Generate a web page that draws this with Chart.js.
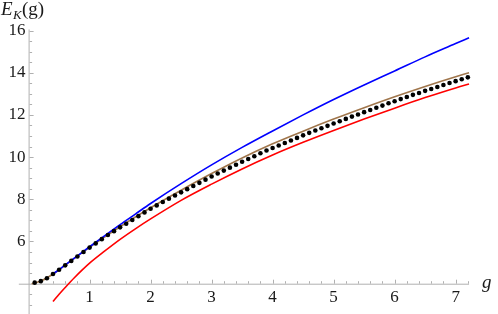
<!DOCTYPE html>
<html>
<head>
<meta charset="utf-8">
<script src="https://cdn.jsdelivr.net/npm/chart.js@4"></script>
<style>
  html, body { margin: 0; padding: 0; background: #fff; }
  #wrap { width: 498px; height: 314px; position: relative; }
</style>
</head>
<body>
<div id="wrap"><canvas id="chart"></canvas></div>
<script>
// tick labels
const X_TICKS = [1, 2, 3, 4, 5, 6, 7];
const Y_TICKS = [6, 8, 10, 12, 14, 16];

// blue curve
const BLUE_X = [0.4, 0.5, 0.75, 1.0, 1.25, 1.5, 1.75, 2.0, 2.5, 3.0, 3.5, 4.0, 4.5, 5.0, 5.5, 6.0, 6.5, 7.0, 7.22];
const BLUE_Y = [4.46, 4.67, 5.21, 5.75, 6.28, 6.8, 7.3, 7.8, 8.74, 9.63, 10.46, 11.24, 12.0, 12.73, 13.42, 14.08, 14.75, 15.38, 15.66];

// brown curve
const BROWN_X = [0.05, 0.1, 0.2, 0.3, 0.4, 0.5, 0.75, 1.0, 1.25, 1.5, 1.75, 2.0, 2.5, 3.0, 3.5, 4.0, 4.5, 5.0, 5.5, 6.0, 6.5, 7.0, 7.22];
const BROWN_Y = [4.0, 4.04, 4.13, 4.27, 4.46, 4.66, 5.2, 5.72, 6.22, 6.7, 7.16, 7.6, 8.43, 9.22, 9.96, 10.63, 11.23, 11.8, 12.34, 12.86, 13.35, 13.81, 14.0];

// red curve
const RED_X = [0.4, 0.5, 0.6, 0.75, 1.0, 1.25, 1.5, 1.75, 2.0, 2.5, 3.0, 3.5, 4.0, 4.5, 5.0, 5.5, 6.0, 6.5, 7.0, 7.22];
const RED_Y = [3.16, 3.5, 3.82, 4.28, 4.97, 5.55, 6.1, 6.6, 7.07, 7.95, 8.72, 9.44, 10.1, 10.7, 11.26, 11.8, 12.32, 12.82, 13.28, 13.46];

// black points
const DOT_X = [0.1, 0.2, 0.3, 0.4, 0.5, 0.6, 0.7, 0.8, 0.9, 1.0,
               1.1, 1.2, 1.3, 1.4, 1.5, 1.6, 1.7, 1.8, 1.9, 2.0,
               2.1, 2.2, 2.3, 2.4, 2.5, 2.6, 2.7, 2.8, 2.9, 3.0,
               3.1, 3.2, 3.3, 3.4, 3.5, 3.6, 3.7, 3.8, 3.9, 4.0,
               4.1, 4.2, 4.3, 4.4, 4.5, 4.6, 4.7, 4.8, 4.9, 5.0,
               5.1, 5.2, 5.3, 5.4, 5.5, 5.6, 5.7, 5.8, 5.9, 6.0,
               6.1, 6.2, 6.3, 6.4, 6.5, 6.6, 6.7, 6.8, 6.9, 7.0,
               7.1, 7.2];
const DOT_Y = [4.05, 4.12, 4.26, 4.46, 4.66, 4.87, 5.08, 5.29, 5.50, 5.71,
               5.91, 6.11, 6.31, 6.49, 6.67, 6.84, 7.02, 7.20, 7.38, 7.55,
               7.71, 7.87, 8.03, 8.18, 8.33, 8.48, 8.63, 8.78, 8.93, 9.08,
               9.22, 9.36, 9.50, 9.64, 9.78, 9.91, 10.04, 10.18, 10.31, 10.43,
               10.55, 10.67, 10.79, 10.91, 11.03, 11.15, 11.26, 11.37, 11.48, 11.59,
               11.70, 11.81, 11.92, 12.02, 12.13, 12.23, 12.34, 12.44, 12.55, 12.65,
               12.75, 12.85, 12.95, 13.04, 13.14, 13.23, 13.32, 13.42, 13.51, 13.60,
               13.69, 13.78];

const pts = (xs, ys) => xs.map((x, i) => ({ x, y: ys[i] }));

const AXIS_GRAY = '#b0b0b0';
const LABEL_FONT = '"Liberation Serif", "DejaVu Serif", serif';

// Mathematica-style axes crossing at (0, 4), ticks pointing inwards
const mmaAxes = {
  id: 'mmaAxes',
  beforeDatasetsDraw(chart) {
    const { ctx, scales: { x, y } } = chart;
    const ox = x.getPixelForValue(0);
    const oy = y.getPixelForValue(4);
    ctx.save();
    ctx.strokeStyle = AXIS_GRAY;
    ctx.lineWidth = 1;

    ctx.beginPath();
    ctx.moveTo(x.getPixelForValue(-0.16), oy + 0.5);
    ctx.lineTo(x.getPixelForValue(7.22), oy + 0.5);
    ctx.moveTo(ox + 0.5, y.getPixelForValue(16.05));
    ctx.lineTo(ox + 0.5, chart.height);
    ctx.stroke();

    // x ticks: major every 1, minor every 0.2
    ctx.beginPath();
    for (let i = 1; i <= 36; i++) {
      const v = i * 0.2;
      const px = Math.round(x.getPixelForValue(v)) + 0.5;
      const len = i % 5 === 0 ? 4 : 2.5;
      ctx.moveTo(px, oy);
      ctx.lineTo(px, oy - len);
    }
    // y ticks: major every 2, minor every 0.5
    for (let i = 6; i <= 32; i++) {
      const v = i * 0.5;
      if (v === 4) continue;
      const py = Math.round(y.getPixelForValue(v)) + 0.5;
      const len = i % 4 === 0 ? 4 : 2.5;
      ctx.moveTo(ox + 1, py);
      ctx.lineTo(ox + 1 + len, py);
    }
    ctx.stroke();

    ctx.fillStyle = '#1a1a1a';
    ctx.font = `17px ${LABEL_FONT}`;
    ctx.textAlign = 'center';
    ctx.textBaseline = 'middle';
    X_TICKS.forEach(v => ctx.fillText(String(v), x.getPixelForValue(v), oy + 14));
    ctx.textAlign = 'right';
    Y_TICKS.forEach(v => ctx.fillText(String(v), ox - 3, y.getPixelForValue(v)));

    // axis labels
    ctx.textAlign = 'left';
    ctx.textBaseline = 'alphabetic';
    ctx.font = `italic 19px ${LABEL_FONT}`;
    ctx.fillText('g', x.getPixelForValue(7.22) + 13, oy + 4);
    ctx.fillText('E', 1, 15);
    ctx.font = `italic 13px ${LABEL_FONT}`;
    ctx.fillText('K', 13, 19);
    ctx.font = `19px ${LABEL_FONT}`;
    ctx.fillText('(g)', 22, 15);
    ctx.restore();
  }
};

const lineSet = (data, color) => ({
  data,
  showLine: true,
  borderColor: color,
  borderWidth: 1.6,
  pointRadius: 0,
  cubicInterpolationMode: 'monotone',
  fill: false,
});

new Chart(document.getElementById('chart'), {
  type: 'scatter',
  data: {
    datasets: [
      {
        data: pts(DOT_X, DOT_Y),
        showLine: false,
        pointRadius: 2.3,
        pointBackgroundColor: '#000',
        pointBorderWidth: 0,
      },
      lineSet(pts(BLUE_X, BLUE_Y), '#0000ff'),
      lineSet(pts(BROWN_X, BROWN_Y), '#a0764c'),
      lineSet(pts(RED_X, RED_Y), '#ff0000'),
    ]
  },
  options: {
    responsive: true,
    maintainAspectRatio: false,
    animation: false,
    layout: { padding: 0 },
    plugins: { legend: { display: false }, tooltip: { enabled: false } },
    scales: {
      x: { type: 'linear', display: false, min: -25 / 62, max: 473 / 62 },
      y: { type: 'linear', display: false, min: 4 - 27 / 21.65, max: 4 + 287 / 21.65 }
    }
  },
  plugins: [mmaAxes]
});
</script>
</body>
</html>
